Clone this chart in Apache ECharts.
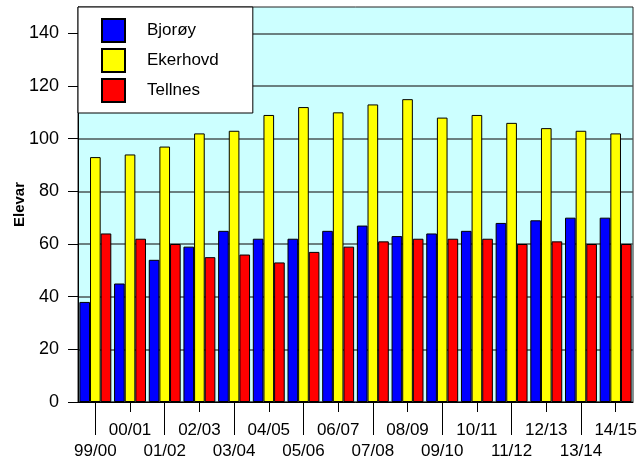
<!DOCTYPE html>
<html>
<head>
<meta charset="utf-8">
<script src="https://cdn.jsdelivr.net/npm/echarts@6/dist/echarts.min.js"></script>
<style>
html, body { margin: 0; padding: 0; background: #fff; }
#chart { width: 640px; height: 463px; }
</style>
</head>
<body>
<div id="chart"></div>
<script>
// skuleår
var years = ['99/00','00/01','01/02','02/03','03/04','04/05','05/06','06/07',
             '07/08','08/09','09/10','10/11','11/12','12/13','13/14','14/15'];
var bjoroy   = [38, 45, 54, 59, 65, 62, 62, 65, 67, 63, 64, 65, 68, 69, 70, 70];
var ekerhovd = [93, 94, 97, 102, 103, 109, 112, 110, 113, 115, 108, 109, 106, 104, 103, 102];
var tellnes  = [64, 62, 60, 55, 56, 53, 57, 59, 61, 62, 62, 62, 60, 61, 60, 60];
var yTicks = [0, 20, 40, 60, 80, 100, 120, 140];

var font = 'Liberation Sans, Arial, sans-serif';

function even(i) { return i % 2 === 0; }
function odd(i) { return i % 2 === 1; }

function barSeries(name, data, color) {
    return {
        name: name,
        type: 'bar',
        data: data,
        barGap: '0%',
        barCategoryGap: '8%',
        itemStyle: { color: color, borderColor: '#000', borderWidth: 1 }
    };
}

var chart = echarts.init(document.getElementById('chart'));
chart.setOption({
    animation: false,
    grid: {
        left: 78, right: 7, top: 7, bottom: 61,
        outerBoundsMode: 'none',
        containLabel: false,
        show: true,
        backgroundColor: '#ccffff',
        borderColor: '#222',
        borderWidth: 1
    },
    legend: {
        orient: 'vertical',
        left: 78, top: 7,
        backgroundColor: '#fff',
        borderColor: '#000',
        borderWidth: 1,
        padding: [11, 34, 10, 23],
        itemWidth: 23, itemHeight: 23, itemGap: 5,
        icon: 'rect',
        textStyle: { fontFamily: font, fontSize: 17, color: '#000', padding: [0, 0, 0, 17] },
        data: ['Bjorøy', 'Ekerhovd', 'Tellnes']
    },
    xAxis: [{
        type: 'category',
        data: years,
        position: 'bottom',
        axisLine: { show: true, lineStyle: { color: '#000', width: 1 } },
        axisTick: { show: true, alignWithLabel: true, length: 33, interval: even, lineStyle: { color: '#000' } },
        axisLabel: { interval: even, margin: 41, fontFamily: font, fontSize: 17, color: '#000' }
    }, {
        type: 'category',
        data: years,
        position: 'bottom',
        axisLine: { show: false },
        axisTick: { show: true, alignWithLabel: true, length: 10, interval: odd, lineStyle: { color: '#000' } },
        axisLabel: { interval: odd, margin: 20, fontFamily: font, fontSize: 17, color: '#000' }
    }],
    yAxis: {
        type: 'value',
        min: 0, max: 150, interval: 10,
        name: 'Elevar',
        nameLocation: 'middle',
        nameGap: 51,
        nameRotate: 90,
        nameMoveOverlap: false,
        nameTextStyle: { fontFamily: font, fontSize: 15, fontWeight: 'bold', color: '#000' },
        axisLine: { show: true, lineStyle: { color: '#000' } },
        axisTick: { show: true, length: 10, customValues: yTicks, lineStyle: { color: '#000' } },
        axisLabel: { margin: 19, customValues: yTicks, fontFamily: font, fontSize: 18, color: '#000' },
        splitLine: { show: true, customValues: yTicks, lineStyle: { color: '#4a5656', width: 1.5 } }
    },
    series: [
        barSeries('Bjorøy', bjoroy, '#0000ff'),
        barSeries('Ekerhovd', ekerhovd, '#ffff00'),
        barSeries('Tellnes', tellnes, '#ff0000')
    ]
});
</script>
</body>
</html>
